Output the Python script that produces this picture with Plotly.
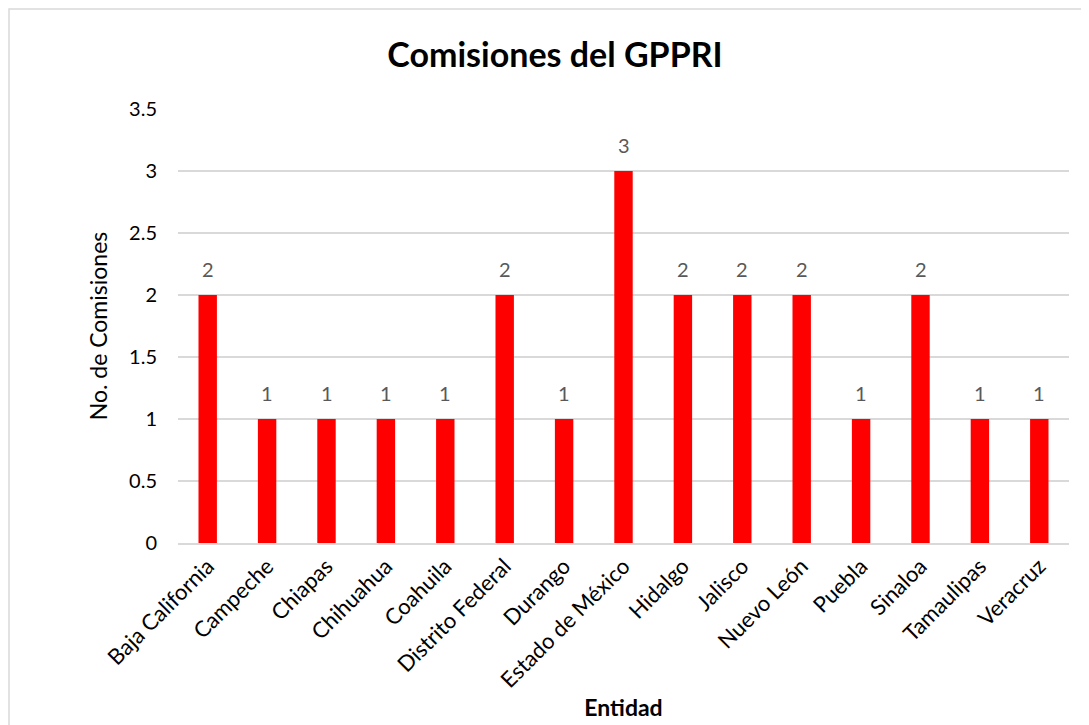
import plotly.graph_objects as go

entidades = ["Baja California", "Campeche", "Chiapas", "Chihuahua", "Coahuila",
             "Distrito Federal", "Durango", "Estado de México", "Hidalgo", "Jalisco",
             "Nuevo León", "Puebla", "Sinaloa", "Tamaulipas", "Veracruz"]
comisiones = [2, 1, 1, 1, 1, 2, 1, 3, 2, 2, 2, 1, 2, 1, 1]
y_ticks = [0, 0.5, 1, 1.5, 2, 2.5, 3, 3.5]
y_tick_labels = ["0", "0.5", "1", "1.5", "2", "2.5", "3", "3.5"]

FONT = "Lato"
W, H = 1089, 725
# page is offset by 8px body margin
L, R, T, B = 170, 28, 101, 190
pw, ph = W - L - R, H - T - B

fig = go.Figure(go.Bar(
    x=entidades, y=comisiones,
    marker=dict(color="#ff0000", line=dict(width=0)),
    cliponaxis=False,
))

annotations = [dict(x=e, y=v, text=str(v), showarrow=False, xref="x", yref="y",
                    yanchor="middle", yshift=26,
                    font=dict(family=FONT, size=20, color="#595959"))
               for e, v in zip(entidades, comisiones)]

fig.update_layout(
    width=W, height=H,
    margin=dict(l=L, r=R, t=T, b=B),
    paper_bgcolor="white", plot_bgcolor="white",
    bargap=0.69,
    showlegend=False,
    annotations=annotations,
    title=dict(text="<b>Comisiones del GPPRI</b>", x=547 / W, xanchor="center",
               y=1 - 47 / H, yanchor="middle",
               font=dict(family=FONT, size=34, color="black")),
    font=dict(family=FONT, color="black"),
    xaxis=dict(
        tickangle=-45, tickfont=dict(family=FONT, size=22, color="black"),
        showgrid=False, showline=True, linecolor="#d9d9d9", linewidth=1.5,
        ticks="",
        title=dict(text="<b>Entidad</b>", font=dict(family=FONT, size=23, color="black"), standoff=2),
    ),
    yaxis=dict(
        range=[0, 3.5], tickvals=y_ticks, ticktext=y_tick_labels,
        tickfont=dict(family=FONT, size=20, color="black"),
        showgrid=True, gridcolor="#d9d9d9", gridwidth=1.5,
        zeroline=False, showline=False, ticks="", ticklabelstandoff=20,
        title=dict(text="No. de Comisiones", font=dict(family=FONT, size=23, color="black"), standoff=15),
    ),
    shapes=[dict(
        type="rect", xref="paper", yref="paper",
        x0=(1 - L) / pw, x1=(1080 - L) / pw,
        y0=-(B + 20) / ph, y1=1 + (T - 1) / ph,
        line=dict(color="#d9d9d9", width=1.5), fillcolor="rgba(0,0,0,0)", layer="below",
    )],
)

fig.write_html("out.html")
